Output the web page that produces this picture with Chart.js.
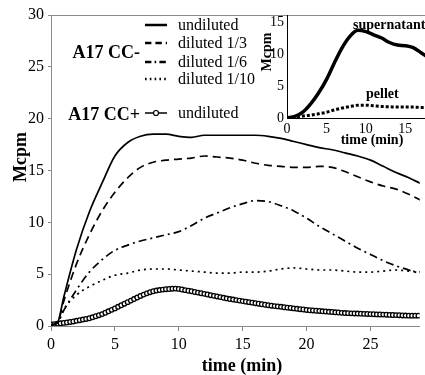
<!DOCTYPE html>
<html>
<head>
<meta charset="utf-8">
<script src="https://cdn.jsdelivr.net/npm/chart.js@4.4.1/dist/chart.umd.min.js"></script>
<style>
    body { margin: 0; background: #fff; }
    #wrap { position: relative; width: 425px; height: 375px; }
    #inset { position: absolute; left: 250px; top: 0; }
</style>
</head>
<body>
<div id="wrap">
    <canvas id="grafico" width="425" height="375"></canvas>
    <canvas id="inset" width="175" height="150"></canvas>
</div>
<script>
// dados principais (Mcpm x tempo em min)
const tempo = [0, 0.5, 1, 2, 3, 4, 5, 6, 7, 8, 9, 10, 11, 12, 13, 14, 15, 16, 17, 18, 19, 20, 21, 22, 23, 24, 25, 26, 27, 28, 29];
const undiluted = [0.1, 0.3, 2.8, 7.4, 11.0, 13.8, 16.4, 17.7, 18.3, 18.5, 18.5, 18.3, 18.2, 18.4, 18.4, 18.4, 18.4, 18.4, 18.3, 18.1, 17.8, 17.5, 17.2, 17.0, 16.7, 16.4, 16.0, 15.4, 14.8, 14.3, 13.7];
const diluted3 = [0.1, 0.3, 2.4, 6.0, 8.8, 11.1, 12.9, 14.3, 15.3, 15.8, 16.0, 16.1, 16.2, 16.4, 16.3, 16.2, 16.0, 15.7, 15.5, 15.4, 15.3, 15.3, 15.4, 15.3, 14.9, 14.4, 13.9, 13.5, 13.2, 12.7, 12.1];
const diluted6 = [0.1, 0.3, 1.5, 3.5, 5.2, 6.4, 7.3, 7.8, 8.2, 8.5, 8.8, 9.1, 9.7, 10.4, 10.9, 11.4, 11.8, 12.1, 12.0, 11.6, 11.1, 10.4, 9.6, 8.9, 8.2, 7.5, 6.9, 6.3, 5.8, 5.4, 5.0];
const diluted10 = [0.1, 0.3, 1.6, 3.0, 3.8, 4.4, 4.9, 5.1, 5.4, 5.5, 5.5, 5.4, 5.3, 5.2, 5.1, 5.1, 5.2, 5.2, 5.3, 5.5, 5.6, 5.5, 5.4, 5.4, 5.3, 5.2, 5.2, 5.3, 5.4, 5.3, 5.2];

// CC+ undiluted, uma leitura a cada 0.25 min a partir de 0
const passoCCmais = 0.25;
const ccMaisUndiluted = [
    0.15, 0.18, 0.22, 0.26, 0.30, 0.34, 0.39, 0.44, 0.50, 0.56, 0.62, 0.68,
    0.75, 0.84, 0.94, 1.04, 1.15, 1.28, 1.42, 1.56, 1.70, 1.85, 2.00, 2.15,
    2.30, 2.45, 2.60, 2.75, 2.90, 3.03, 3.15, 3.26, 3.35, 3.42, 3.47, 3.51,
    3.55, 3.57, 3.60, 3.61, 3.58, 3.52, 3.46, 3.40, 3.35, 3.28, 3.22, 3.16,
    3.10, 3.04, 2.97, 2.91, 2.85, 2.79, 2.72, 2.66, 2.60, 2.55, 2.50, 2.45,
    2.40, 2.35, 2.30, 2.25, 2.20, 2.15, 2.10, 2.05, 2.00, 1.96, 1.92, 1.89,
    1.85, 1.81, 1.77, 1.74, 1.70, 1.66, 1.62, 1.59, 1.55, 1.52, 1.50, 1.47,
    1.45, 1.42, 1.40, 1.37, 1.35, 1.32, 1.30, 1.27, 1.25, 1.24, 1.22, 1.21,
    1.20, 1.19, 1.17, 1.16, 1.15, 1.14, 1.12, 1.11, 1.10, 1.09, 1.07, 1.06,
    1.05, 1.04, 1.02, 1.01, 1.00, 1.00, 1.00, 1.00
];

// inset
const tempoInset = [0, 1, 2, 3, 4, 5, 6, 7, 8, 9, 10, 11, 12, 13, 14, 15, 16, 17, 18];
const supernatant = [0, 0.25, 0.9, 2.2, 3.9, 6.0, 8.6, 11.0, 12.8, 13.7, 13.5, 13.0, 12.5, 11.8, 11.4, 11.3, 11.0, 10.2, 9.4];
const pellet = [0, 0.15, 0.3, 0.45, 0.65, 0.9, 1.25, 1.55, 1.8, 2.0, 2.0, 1.9, 1.8, 1.75, 1.7, 1.7, 1.7, 1.65, 1.65];

const ticksX = [0, 5, 10, 15, 20, 25];
const ticksY = [0, 5, 10, 15, 20, 25, 30];
const ticksInset = [0, 5, 10, 15];
const rotulosLegenda = ['undiluted', 'diluted 1/3', 'diluted 1/6', 'diluted 1/10', 'undiluted'];

const fonte = '"Liberation Serif", "Times New Roman", serif';
const corEixo = '#8a8a8a';

function pontos(xs, ys) {
    return ys.map((v, i) => ({ x: xs[i], y: v }));
}

function linha(dados, dash, largura) {
    return {
        data: dados,
        borderColor: '#000',
        borderWidth: largura,
        borderDash: dash,
        pointRadius: 0,
        cubicInterpolationMode: 'monotone',
        fill: false
    };
}

const datasets = [
    linha(pontos(tempo, undiluted), [], 1.7),
    linha(pontos(tempo, diluted3), [8, 5], 1.7),
    linha(pontos(tempo, diluted6), [8, 4, 2, 4], 1.7),
    linha(pontos(tempo, diluted10), [2, 4], 1.7),
    {
        data: ccMaisUndiluted.map((v, i) => ({ x: i * passoCCmais, y: v })),
        borderColor: '#000',
        borderWidth: 1,
        pointRadius: 2.3,
        pointBorderWidth: 1.3,
        pointBackgroundColor: '#fff',
        pointBorderColor: '#000',
        fill: false
    }
];

const linhasLegenda = [25, 43, 62, 79, 113];

const extrasPrincipal = {
    id: 'extrasPrincipal',
    afterDraw(chart) {
        const ctx = chart.ctx;
        const area = chart.chartArea;
        ctx.save();
        ctx.strokeStyle = corEixo;
        ctx.lineWidth = 1;
        ctx.beginPath();
        ctx.moveTo(area.left, area.top + 0.5);
        ctx.lineTo(chart.width, area.top + 0.5);
        ctx.stroke();

        ctx.fillStyle = '#000';
        ctx.textBaseline = 'middle';
        ctx.font = 'bold 18px ' + fonte;
        ctx.textAlign = 'center';
        ctx.fillText('time (min)', 242, 366);
        ctx.textAlign = 'right';
        ctx.fillText('A17 CC-', 140, 53);
        ctx.fillText('A17 CC+', 140, 115);

        // legenda
        ctx.font = '16px ' + fonte;
        ctx.textAlign = 'left';
        chart.data.datasets.forEach((ds, i) => {
            const y = linhasLegenda[i];
            ctx.strokeStyle = '#000';
            ctx.lineWidth = i === 4 ? 1.5 : 2.5;
            ctx.setLineDash(i === 0 || i === 4 ? [] : ds.borderDash.map(d => d * 0.8));
            ctx.beginPath();
            ctx.moveTo(145, y);
            ctx.lineTo(167, y);
            ctx.stroke();
            ctx.setLineDash([]);
            if (i === 4) {
                ctx.beginPath();
                ctx.arc(156, y, 2.5, 0, Math.PI * 2);
                ctx.fillStyle = '#fff';
                ctx.fill();
                ctx.lineWidth = 1.2;
                ctx.stroke();
            }
            ctx.fillStyle = '#000';
            ctx.fillText(rotulosLegenda[i], 178, y + 1);
        });

        ctx.font = 'bold 18px ' + fonte;
        ctx.textAlign = 'center';
        ctx.translate(21, 157);
        ctx.rotate(-Math.PI / 2);
        ctx.fillText('Mcpm', 0, 0);
        ctx.restore();
    }
};

new Chart(document.getElementById('grafico'), {
    type: 'line',
    data: { datasets: datasets },
    options: {
        responsive: false,
        animation: false,
        layout: { padding: { top: 15, right: 1, left: 0, bottom: 0 } },
        plugins: { legend: { display: false }, tooltip: { enabled: false } },
        scales: {
            x: {
                type: 'linear',
                min: 0,
                max: 28.85,
                afterBuildTicks: (scale) => { scale.ticks = ticksX.map(v => ({ value: v })); },
                afterFit: (scale) => { scale.height = 49; },
                grid: { drawOnChartArea: false, drawTicks: true, tickLength: 5, color: corEixo },
                border: { display: true, color: corEixo, width: 1 },
                ticks: { color: '#000', padding: 4, maxRotation: 0, font: { family: fonte, size: 16 } }
            },
            y: {
                min: 0,
                max: 30,
                afterBuildTicks: (scale) => { scale.ticks = ticksY.map(v => ({ value: v })); },
                afterFit: (scale) => { scale.width = 51; },
                grid: { drawOnChartArea: false, drawTicks: true, tickLength: 3, color: corEixo },
                border: { display: true, color: corEixo, width: 1 },
                ticks: { color: '#000', padding: 4, font: { family: fonte, size: 16 } }
            }
        }
    },
    plugins: [extrasPrincipal]
});

const extrasInset = {
    id: 'extrasInset',
    afterDraw(chart) {
        const ctx = chart.ctx;
        ctx.save();
        ctx.fillStyle = '#000';
        ctx.textBaseline = 'middle';
        ctx.font = 'bold 14px ' + fonte;
        ctx.textAlign = 'center';
        ctx.fillText('time (min)', 122, 140);
        ctx.textAlign = 'left';
        ctx.fillText('supernatant', 103, 25);
        ctx.fillText('pellet', 116, 94);
        ctx.translate(17, 52);
        ctx.rotate(-Math.PI / 2);
        ctx.textAlign = 'center';
        ctx.fillText('Mcpm', 0, 0);
        ctx.restore();
    }
};

new Chart(document.getElementById('inset'), {
    type: 'line',
    data: {
        datasets: [
            linha(pontos(tempoInset, supernatant), [], 3.5),
            linha(pontos(tempoInset, pellet), [3, 2], 3)
        ]
    },
    options: {
        responsive: false,
        animation: false,
        layout: { padding: { top: 15, right: 0, left: 0, bottom: 0 } },
        plugins: { legend: { display: false }, tooltip: { enabled: false } },
        scales: {
            x: {
                type: 'linear',
                min: 0,
                max: 17.5,
                afterBuildTicks: (scale) => { scale.ticks = ticksInset.map(v => ({ value: v })); },
                afterFit: (scale) => { scale.height = 32; },
                grid: { display: false, drawTicks: false },
                border: { display: true, color: '#000', width: 1 },
                ticks: { color: '#000', padding: 3, maxRotation: 0, font: { family: fonte, size: 14 } }
            },
            y: {
                min: 0,
                max: 16.1,
                afterBuildTicks: (scale) => { scale.ticks = ticksInset.map(v => ({ value: v })); },
                afterFit: (scale) => { scale.width = 37; },
                grid: { display: false, drawTicks: false },
                border: { display: true, color: '#000', width: 1 },
                ticks: { color: '#000', padding: 3, font: { family: fonte, size: 14 } }
            }
        }
    },
    plugins: [extrasInset]
});
</script>
</body>
</html>
